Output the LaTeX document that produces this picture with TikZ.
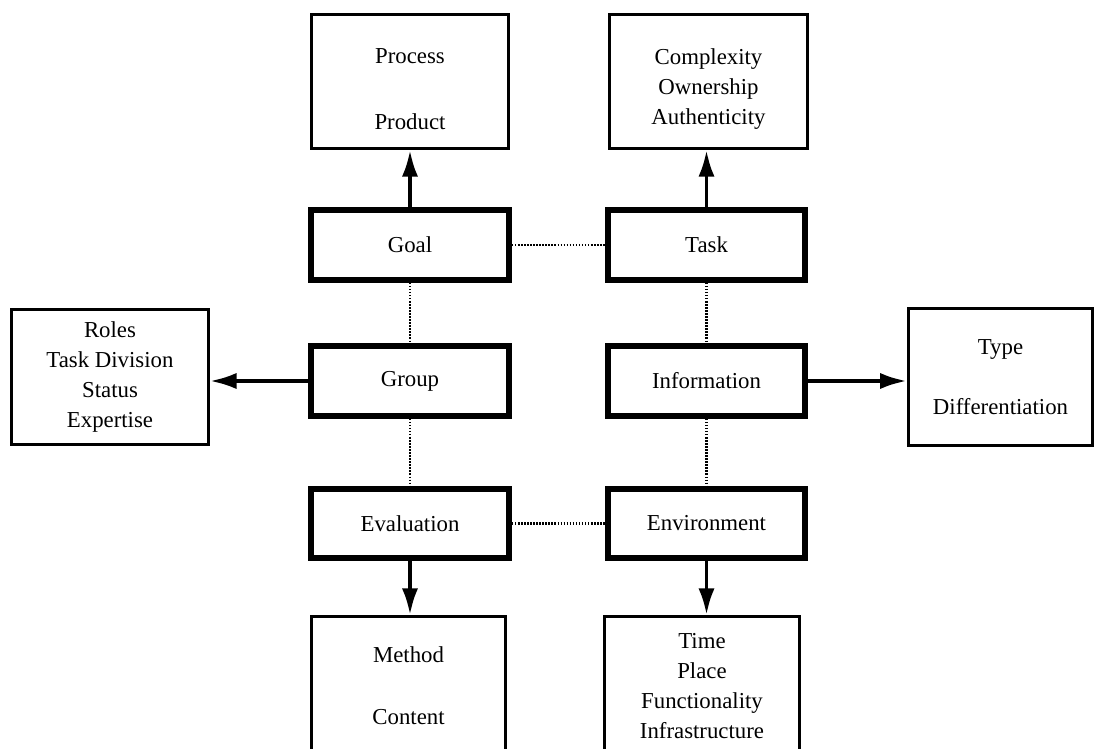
\documentclass[tikz,border=0pt]{standalone}
\usepackage{fontspec}
\setmainfont{Liberation Serif}
\usepackage{tikz}
\usetikzlibrary{arrows.meta,positioning}

\begin{document}
\begin{tikzpicture}[x=0.526pt, y=-0.526pt,
  facet/.style={draw, line width=3.2pt, minimum width=104pt, minimum height=36.5pt, align=center},
  detail/.style={draw, line width=1.6pt, align=center},
  lowtext/.style={align=center, yshift=-4pt},
  link/.style={draw, line width=1.2pt, dash pattern=on 0.8pt off 0.8pt},
  arr/.style={draw, line width=2pt, -{Latex[length=14pt, width=8.5pt]}},
  every node/.style={font=\fontsize{12}{15.8}\selectfont}
]
\useasboundingbox (0,0) rectangle (1096,749);

% the six facets
\node[facet] (goal) at (410,245) {Goal};
\node[facet] (task) at (706.5,245) {Task};
\node[facet] (grp)  at (410,381) {Group};
\node[facet] (info) at (706.5,381) {Information};
\node[facet] (eval) at (410,523.5) {Evaluation};
\node[facet] (env)  at (706.5,523.5) {Environment};

% their details
\node[detail, minimum width=104pt, minimum height=70.5pt,
  label={[lowtext]center:Process\\[19pt]Product}] (goalD) at (410,81.5) {};
\node[detail, minimum width=104pt, minimum height=70.5pt,
  label={[lowtext]center:Complexity\\Ownership\\Authenticity}] (taskD) at (708.5,81.5) {};
\node[detail, minimum width=103.5pt, minimum height=71.5pt] (grpD) at (110,377)
  {Roles\\Task Division\\Status\\Expertise};
\node[detail, minimum width=97pt, minimum height=72pt] (infoD) at (1000.5,377)
  {Type\\[16pt]Differentiation};
\node[detail, minimum width=102pt, minimum height=73pt, anchor=north] (evalD) at (408.5,615)
  {Method\\[17pt]Content};
\node[detail, minimum width=102.5pt, minimum height=73pt, anchor=north] (envD) at (702,615)
  {Time\\Place\\Functionality\\Infrastructure};

% dotted links
\draw[link] (goal) -- (task);
\draw[link] (eval) -- (env);
\draw[link] (goal) -- (grp);
\draw[link] (grp) -- (eval);
\draw[link] (task) -- (info);
\draw[link] (info) -- (env);

% arrows
\draw[arr] (goal) -- (goalD);
\draw[arr] (task.north) -- (task.north |- taskD.south);
\draw[arr] (grp) -- (grp -| grpD.east);
\draw[arr] (info) -- (info -| infoD.west);
\draw[arr] (eval.south) -- (eval.south |- evalD.north);
\draw[arr] (env.south) -- (env.south |- envD.north);

\end{tikzpicture}
\end{document}
